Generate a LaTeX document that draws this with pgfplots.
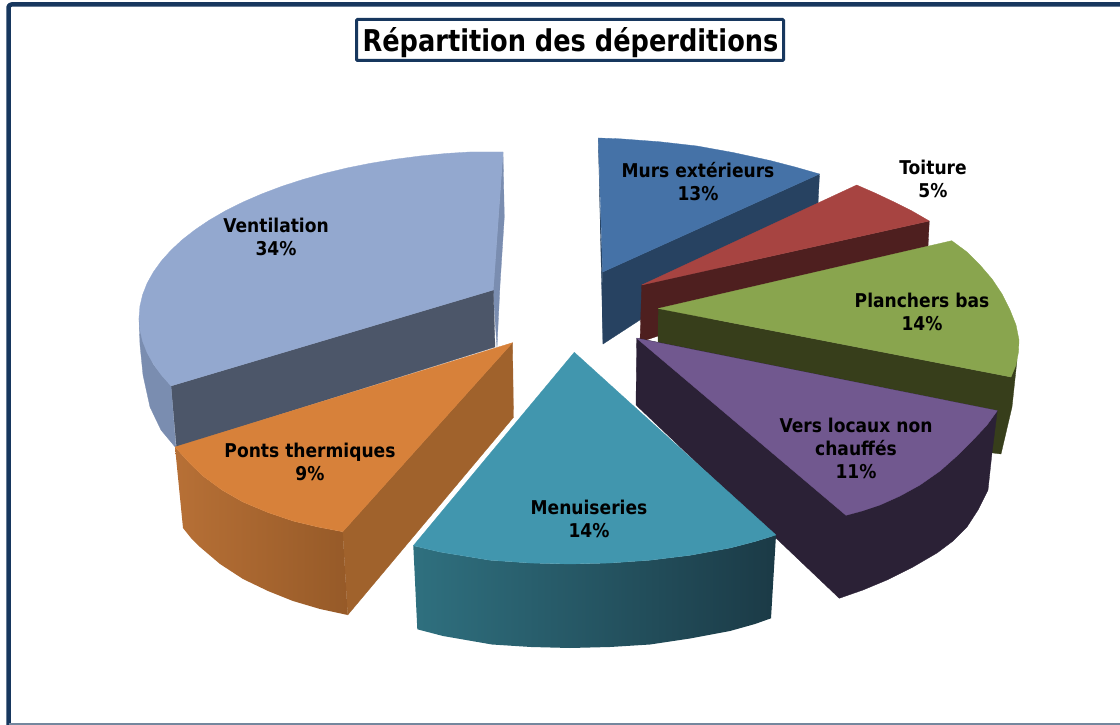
\documentclass[border=0pt]{standalone}
\usepackage{fontspec}
\setmainfont{DejaVu Sans}
\newfontfamily\lab[FakeStretch=0.9]{DejaVu Sans Bold}
\newfontfamily\ttl[FakeStretch=0.855]{DejaVu Sans Bold}
\usepackage{pgfplots}
\pgfplotsset{compat=1.18}
\definecolor{frame}{RGB}{23,55,94}
\definecolor{bt}{RGB}{69,114,167}\definecolor{bs}{RGB}{39,66,97}
\definecolor{rt}{RGB}{167,68,65}\definecolor{rs}{RGB}{78,31,31}
\definecolor{gt}{RGB}{137,165,78}\definecolor{gs}{RGB}{55,62,27}
\definecolor{pt}{RGB}{113,88,143}\definecolor{ps}{RGB}{43,33,54}
\definecolor{tt}{RGB}{65,150,174}\definecolor{tl}{RGB}{47,112,127}\definecolor{tr}{RGB}{27,58,70}
\definecolor{vt}{RGB}{147,168,207}\definecolor{vs}{RGB}{76,86,105}\definecolor{vw}{RGB}{122,141,176}
\definecolor{ot}{RGB}{215,129,58}\definecolor{os}{RGB}{160,98,44}\definecolor{ol}{RGB}{183,112,54}\definecolor{or}{RGB}{150,90,40}
\tikzset{lbl/.style={align=center,font=\lab\fontsize{19}{23}\selectfont,text=black,inner sep=0pt}}
\begin{document}
\begin{tikzpicture}
\path[use as bounding box] (0,0) rectangle (1120pt,725pt);
\begin{axis}[at={(0,0)},anchor=south west,scale only axis,width=1120pt,height=725pt,xmin=0,xmax=1120,ymin=0,ymax=725,y dir=reverse,
  axis lines=none,clip=true,no markers,
  every axis plot/.append style={line width=0.3pt,line join=round}]
% frame
\addplot[draw=frame,line width=4.5pt,rounded corners=3pt] coordinates {(8.5,730)(8.5,4.5)(1125,4.5)};
\addplot[draw=frame!60,line width=1.5pt] coordinates {(8.5,724.2)(1125,724.2)};
% Ventilation
\addplot[fill=vw,draw=vw] coordinates {(503,152)(504.3,217)(500,285)(497,347)(493,290)} -- cycle;
\addplot[fill=vs,draw=vs] coordinates {(493.3,290)(495,347)(176.5,447)(171,386)} -- cycle;
\addplot[fill=vw,draw=vw] coordinates {(139,318)(140,345)(143,375)(150,407)(161,430)(176,448)(171,386)(153,364)} -- cycle;
\addplot[fill=vt,draw=vt] coordinates {(503,152)(471.2,151.9)(445.6,153.5)(420.2,156)(395.4,159.2)(371,163.2)(347.4,167.9)(324.5,173.4)(302.5,179.6)(281.6,186.4)(261.8,193.9)(243.1,202)(225.8,210.6)(209.9,219.8)(195.4,229.5)(182.4,239.6)(171.1,250.1)(161.4,260.9)(153.4,272)(147.1,283.3)(142.6,294.8)(139.9,306.3)(139,318)(139.9,329.7)(142.6,341.2)(147.1,352.7)(153.4,364)(161.4,375.1)(171.1,385.9)(493.3,290)} -- cycle;
% Ponts thermiques
\addplot[fill=os,draw=os] coordinates {(512.5,342.7)(342.7,531.7)(347.7,615)(513.5,417.3)} -- cycle;
\addplot[left color=ol,right color=or,draw=none] coordinates {(175,447)(183,528)(191,538)(200,547)(220,564)(243,579)(268,591)(293,601)(320,609)(347.7,615)(342.7,531.7)(318,527)(293,521)(268,512.5)(243,502)(222,490)(203,476)(190,463.5)} -- cycle;
\addplot[fill=ot,draw=ot] coordinates {(512.5,342.7)(175,447)(190,463.5)(203,476)(222,490)(243,502)(268,512.5)(293,521)(318,527)(342.7,531.7)} -- cycle;
% Murs exterieurs
\addplot[fill=bs,draw=bs] coordinates {(598.3,138)(600,205)(602.7,272)(603,344)} -- cycle;
\addplot[fill=bs,draw=bs] coordinates {(602.7,272)(819.5,174)(818,204)(603,344)} -- cycle;
\addplot[fill=bt,draw=bt] coordinates {(598.3,138)(620,138.8)(660,141.8)(697,146)(733,152.5)(770,160.5)(795,167)(819.5,174)(602.7,272)} -- cycle;
% Toiture
\addplot[fill=rs,draw=rs] coordinates {(641.7,285)(929.3,221)(928,247)(640,342)} -- cycle;
\addplot[fill=rt,draw=rt] coordinates {(641.7,285)(856.7,185)(875,193)(893,201.5)(912,211)(929.3,221)} -- cycle;
% Planchers bas
\addplot[fill=gs,draw=gs] coordinates {(658.3,308.5)(1011,377)(1017,360)(1012,407)(1001,454)(993,453)(658,345)} -- cycle;
\addplot[fill=gt,draw=gt] coordinates {(658.3,308.5)(951.7,240.7)(967,252)(980,265)(992,279)(1002,294)(1010,310)(1016,325)(1019,340)(1018.5,352)(1016,365)(1011,377)} -- cycle;
% Vers locaux non chauffes
\addplot[fill=ps,draw=ps] coordinates {(636.7,338)(997.3,410.7)(992,453)(988,490)(978,510)(967,527)(953,541)(937,553)(913,567)(887,580)(863,590)(839.3,598.3)(636,405)} -- cycle;
\addplot[fill=pt,draw=pt] coordinates {(636.7,338.3)(997.3,410.7)(987,425)(973,440)(958,455)(940,471)(920,485)(900,496)(880,505)(862,511)(846,515.3)} -- cycle;
% Menuiseries
\addplot[left color=tl,right color=tr,draw=none] coordinates {(413.3,545.7)(417.3,629.3)(443,636)(492,644.5)(531,647)(570,648)(610,647)(650,644.5)(690,638.5)(730,631)(755,624)(771,618.3)(776,535)(755,541.5)(730,548)(690,555.3)(650,560.2)(610,563)(570,564)(530,563)(490,560.2)(440,552)} -- cycle;
\addplot[fill=tt,draw=tt] coordinates {(574.3,352.3)(776,535)(755,541.5)(730,548)(690,555.3)(650,560.2)(610,563)(570,564)(530,563)(490,560.2)(440,552)(413.3,545.7)} -- cycle;
% labels
\node[lbl] at (axis cs:698,182) {Murs extérieurs\\13\%};
\node[lbl] at (axis cs:933,179) {Toiture\\5\%};
\node[lbl] at (axis cs:922,312) {Planchers bas\\14\%};
\node[lbl] at (axis cs:856,448) {Vers locaux non\\chauffés\\11\%};
\node[lbl] at (axis cs:589,519) {Menuiseries\\14\%};
\node[lbl] at (axis cs:310,462) {Ponts thermiques\\9\%};
\node[lbl] at (axis cs:276,237) {Ventilation\\34\%};
\node[draw=frame,line width=3pt,fill=white,rounded corners=1pt,minimum width=427pt,minimum height=41pt,inner sep=0pt] at (axis cs:570,40) {};
\node[inner sep=0pt,font=\ttl\fontsize{30}{36}\selectfont] at (axis cs:570.5,43) {Répartition des déperditions};
\end{axis}
\end{tikzpicture}
\end{document}
